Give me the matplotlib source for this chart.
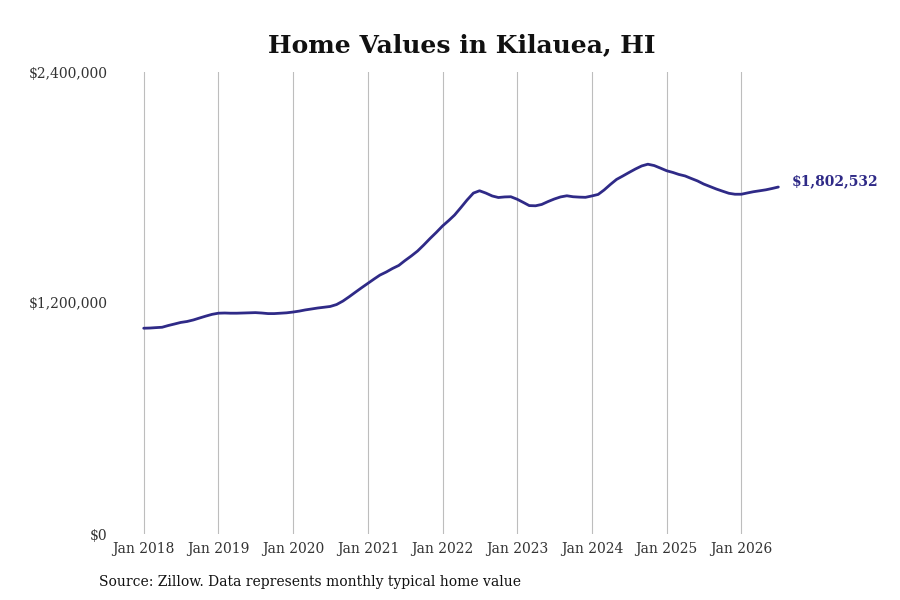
import matplotlib
matplotlib.use("Agg")
from matplotlib import pyplot as plt
import matplotlib.dates as mdates
from matplotlib.ticker import FuncFormatter
import pandas as pd

# monthly typical home value, Jan 2018 .. Jul 2026
months = pd.date_range("2018-01-01", periods=103, freq="MS")
values = [
    1069000, 1070000, 1072000, 1074000, 1083000, 1091000, 1099000, 1104000, 1112000, 1122000, 1132000, 1141000,
    1147000, 1148000, 1147000, 1147000, 1148000, 1149000, 1150000, 1148000, 1145000, 1145000, 1147000, 1149000,
    1153000, 1158000, 1164000, 1169000, 1174000, 1178000, 1182000, 1192000, 1210000, 1232000, 1256000, 1279000,
    1302000, 1325000, 1345000, 1361000, 1379000, 1395000, 1420000, 1444000, 1470000, 1501000, 1535000, 1566000,
    1600000, 1629000, 1657000, 1696000, 1735000, 1771000, 1783000, 1771000, 1756000, 1748000, 1751000, 1752000,
    1739000, 1722000, 1706000, 1705000, 1712000, 1727000, 1740000, 1751000, 1757000, 1752000, 1750000, 1749000,
    1756000, 1764000, 1787000, 1816000, 1842000, 1860000, 1878000, 1896000, 1912000, 1921000, 1914000, 1901000,
    1887000, 1878000, 1868000, 1860000, 1847000, 1834000, 1818000, 1805000, 1792000, 1781000, 1770000, 1765000,
    1765000, 1772000, 1778000, 1783000, 1788000, 1795000, 1802532,
]
year_ticks = pd.date_range("2018-01-01", "2026-01-01", freq="YS")
y_ticks = [0, 1200000, 2400000]

title = "Home Values in Kilauea, HI"
source = "Source: Zillow. Data represents monthly typical home value"
line_color = "#2f2a87"

fig = plt.figure(figsize=(9, 6), dpi=100)
ax = fig.add_axes([0.124, 0.11, 0.754, 0.77])

ax.plot(months, values, color=line_color, linewidth=2.0, solid_capstyle="round")

ax.set_xlim(pd.Timestamp("2017-07-28"), pd.Timestamp("2026-08-28"))
ax.set_ylim(0, 2400000)
ax.set_xticks(year_ticks)
ax.xaxis.set_major_formatter(mdates.DateFormatter("%b %Y"))
ax.set_yticks(y_ticks)
ax.yaxis.set_major_formatter(FuncFormatter(lambda v, p: "${:,.0f}".format(v)))

ax.grid(axis="x", color="#bdbdbd", linewidth=0.8)
ax.grid(axis="y", visible=False)
for s in ax.spines.values():
    s.set_visible(False)
ax.tick_params(axis="both", length=0)
ax.tick_params(axis="x", pad=6)
ax.tick_params(axis="y", pad=3)
for lab in ax.get_xticklabels():
    lab.set_family("DejaVu Serif")
    lab.set_fontsize(10)
    lab.set_color("#333333")
for lab in ax.get_yticklabels():
    lab.set_family("DejaVu Serif")
    lab.set_fontsize(10)
    lab.set_color("#333333")

ax.annotate("${:,.0f}".format(values[-1]), xy=(months[-1], values[-1]),
            xytext=(9.7, 4), textcoords="offset points", ha="left", va="center",
            fontsize=10, fontweight="bold", color=line_color, family="DejaVu Serif")

fig.text(0.513, 0.925, title, ha="center", va="center", fontsize=18,
         fontweight="bold", family="DejaVu Serif", color="#111111")
fig.text(0.11, 0.03, source, ha="left", va="center", fontsize=10,
         family="DejaVu Serif", color="#111111")

fig.savefig("out.png", dpi=100)
